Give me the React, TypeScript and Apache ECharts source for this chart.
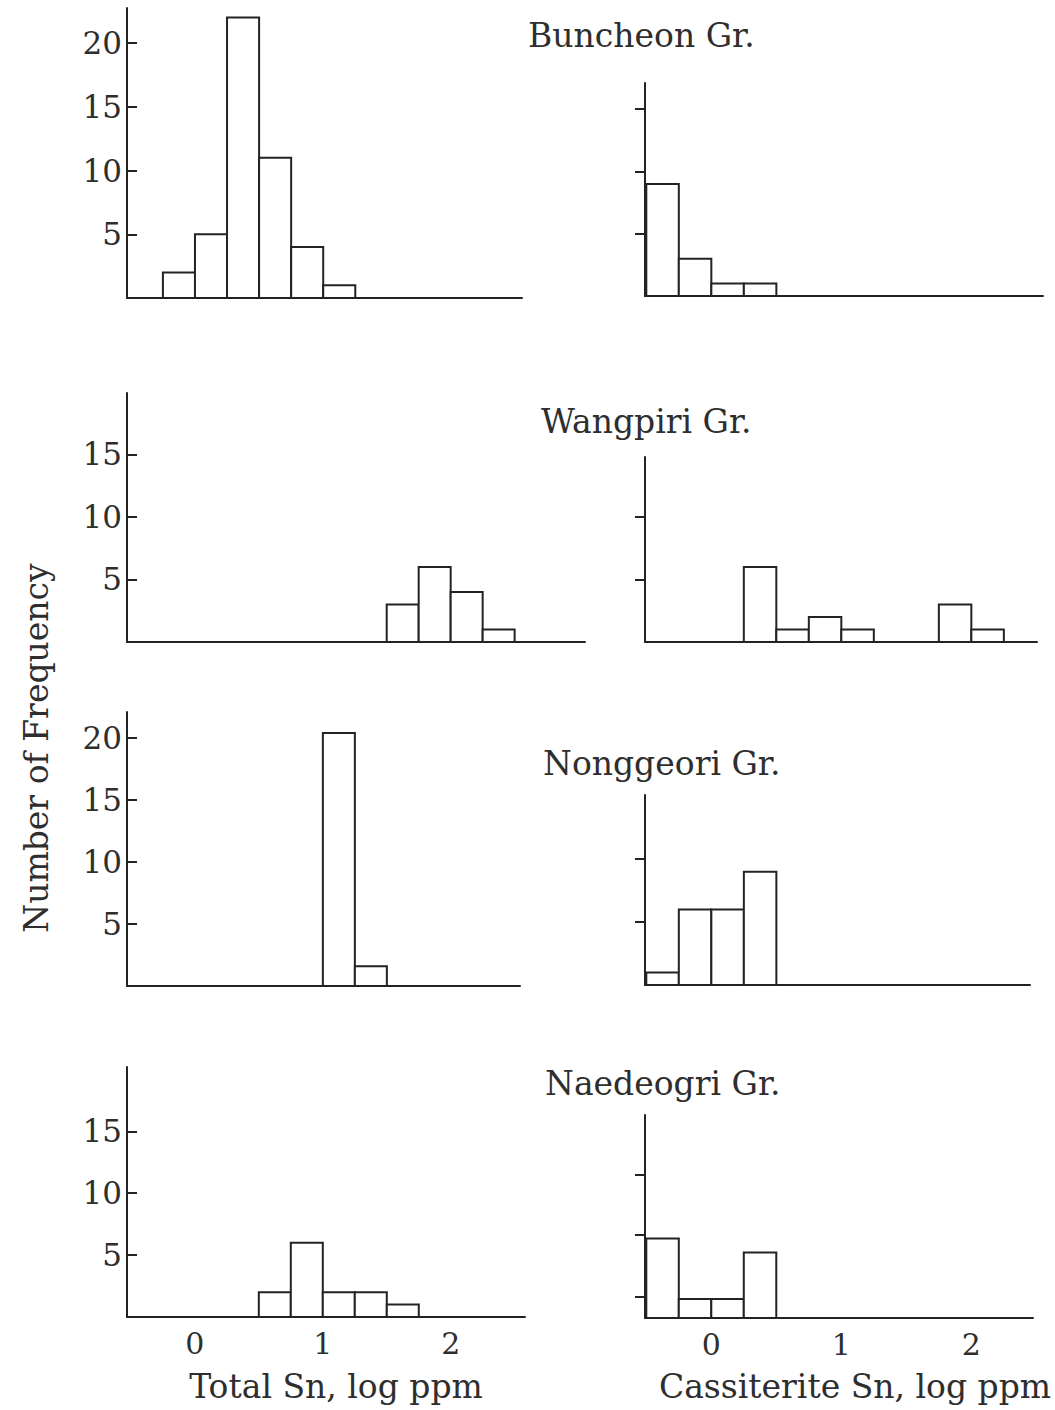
import React, { useEffect, useRef } from "react";
import * as echarts from "echarts";

// ---- data (bin lower edges in log ppm, bin width 0.25; counts) ----
const BIN_WIDTH = 0.25;
const groupNames = ["Buncheon Gr.", "Wangpiri Gr.", "Nonggeori Gr.", "Naedeogri Gr."];

const buncheonTotalBins = [-0.25, 0, 0.25, 0.5, 0.75, 1.0];
const buncheonTotalCounts = [2, 5, 22, 11, 4, 1];
const buncheonCassBins = [-0.5, -0.25, 0, 0.25];
const buncheonCassCounts = [9, 3, 1, 1];

const wangpiriTotalBins = [1.5, 1.75, 2.0, 2.25];
const wangpiriTotalCounts = [3, 6, 4, 1];
const wangpiriCassBins = [0.25, 0.5, 0.75, 1.0, 1.75, 2.0];
const wangpiriCassCounts = [6, 1, 2, 1, 3, 1];

const nonggeoriTotalBins = [1.0, 1.25];
const nonggeoriTotalCounts = [20.4, 1.6];
const nonggeoriCassBins = [-0.5, -0.25, 0, 0.25];
const nonggeoriCassCounts = [1, 6, 6, 9];

const naedeogriTotalBins = [0.5, 0.75, 1.0, 1.25, 1.5];
const naedeogriTotalCounts = [2, 6, 2, 2, 1];
const naedeogriCassBins = [-0.5, -0.25, 0, 0.25];
const naedeogriCassCounts = [6.3, 1.5, 1.5, 5.2];

const xTickValues = [0, 1, 2];
const yTicksP1 = [5, 10, 15, 20];
const yTicksP2 = [5, 10, 15];
const yTicksP3 = [5, 10, 15];
const yTicksP4 = [5, 10];
const yTicksP5 = [5, 10, 15, 20];
const yTicksP6 = [5, 10];
const yTicksP7 = [5, 10, 15];
const yTicksP8 = [1.7, 6.6, 11.4];

const xTitleLeft = "Total Sn, log ppm";
const xTitleRight = "Cassiterite Sn, log ppm";
const yTitle = "Number of Frequency";

const FONT = "DejaVu Serif";
const INK = "#232323";
const TEXT = "#2e2e2e";

type Panel = {
  bins: number[];
  counts: number[];
  ticks: number[];
  left: number; top: number; width: number; height: number;
  xmin: number; xmax: number; ymax: number;
  leftCol: boolean; bottom: boolean;
};

const panels: Panel[] = [
  { bins: buncheonTotalBins, counts: buncheonTotalCounts, ticks: yTicksP1, left: 127, top: 8, width: 395, height: 290, xmin: -0.53, xmax: 2.55, ymax: 22.75, leftCol: true, bottom: false },
  { bins: buncheonCassBins, counts: buncheonCassCounts, ticks: yTicksP2, left: 645, top: 83, width: 398, height: 213, xmin: -0.51, xmax: 2.55, ymax: 17.1, leftCol: false, bottom: false },
  { bins: wangpiriTotalBins, counts: wangpiriTotalCounts, ticks: yTicksP3, left: 127, top: 393, width: 458, height: 249, xmin: -0.53, xmax: 3.05, ymax: 19.9, leftCol: true, bottom: false },
  { bins: wangpiriCassBins, counts: wangpiriCassCounts, ticks: yTicksP4, left: 645, top: 457, width: 392, height: 185, xmin: -0.51, xmax: 2.505, ymax: 14.8, leftCol: false, bottom: false },
  { bins: nonggeoriTotalBins, counts: nonggeoriTotalCounts, ticks: yTicksP5, left: 127, top: 712, width: 393, height: 274, xmin: -0.53, xmax: 2.54, ymax: 22.1, leftCol: true, bottom: false },
  { bins: nonggeoriCassBins, counts: nonggeoriCassCounts, ticks: yTicksP6, left: 645, top: 795, width: 385, height: 190, xmin: -0.51, xmax: 2.45, ymax: 15.1, leftCol: false, bottom: false },
  { bins: naedeogriTotalBins, counts: naedeogriTotalCounts, ticks: yTicksP7, left: 127, top: 1067, width: 398, height: 250, xmin: -0.53, xmax: 2.58, ymax: 20.2, leftCol: true, bottom: true },
  { bins: naedeogriCassBins, counts: naedeogriCassCounts, ticks: yTicksP8, left: 645, top: 1115, width: 388, height: 203, xmin: -0.51, xmax: 2.475, ymax: 16.1, leftCol: false, bottom: true },
];

const titlePos = [
  { x: 528, y: 35 },
  { x: 541, y: 421 },
  { x: 543, y: 763 },
  { x: 545, y: 1083 },
];

export default function App() {
  const ref = useRef<HTMLDivElement>(null);
  useEffect(() => {
    if (!ref.current) return;
    const chart = echarts.init(ref.current, undefined, { renderer: "svg" });

    const grid = panels.map((p) => ({ left: p.left, top: p.top, width: p.width, height: p.height, containLabel: false }));
    const xAxis = panels.map((p, i) => ({
      type: "value",
      gridIndex: i,
      min: p.xmin,
      max: p.xmax,
      axisLine: { show: true, onZero: false, lineStyle: { color: INK, width: 2 } },
      axisTick: { show: false },
      splitLine: { show: false },
      axisLabel: p.bottom
        ? { show: true, customValues: xTickValues, fontFamily: FONT, fontSize: 30, color: TEXT, margin: 11 }
        : { show: false },
    }));
    const yAxis = panels.map((p, i) => ({
      type: "value",
      gridIndex: i,
      min: 0,
      max: p.ymax,
      axisLine: { show: true, onZero: false, lineStyle: { color: INK, width: 2 } },
      axisTick: { show: true, customValues: p.ticks, inside: p.leftCol, length: 10, lineStyle: { color: INK, width: 2 } },
      splitLine: { show: false },
      axisLabel: p.leftCol
        ? { show: true, customValues: p.ticks, fontFamily: FONT, fontSize: 31, color: TEXT, margin: 5 }
        : { show: false },
    }));
    const series = panels.map((p, i) => ({
      type: "custom",
      xAxisIndex: i,
      yAxisIndex: i,
      data: p.bins.map((b, k) => [b, b + BIN_WIDTH, p.counts[k]]),
      encode: { x: [0, 1], y: 2 },
      renderItem: (params: any, api: any) => {
        const p0 = api.coord([api.value(0), api.value(2)]);
        const p1 = api.coord([api.value(1), 0]);
        return {
          type: "rect",
          shape: { x: p0[0], y: p0[1], width: p1[0] - p0[0], height: p1[1] - p0[1] },
          style: { fill: "#ffffff", stroke: INK, lineWidth: 2 },
        };
      },
    }));

    const graphic: any[] = [];
    groupNames.forEach((name, i) => {
      graphic.push({
        type: "text",
        x: titlePos[i].x,
        y: titlePos[i].y,
        style: { text: name, font: `33px "${FONT}"`, fill: TEXT, align: "left", verticalAlign: "middle" },
      });
    });
    graphic.push({
      type: "text", x: 336, y: 1386,
      style: { text: xTitleLeft, font: `33px "${FONT}"`, fill: TEXT, align: "center", verticalAlign: "middle" },
    });
    graphic.push({
      type: "text", x: 855, y: 1386,
      style: { text: xTitleRight, font: `33px "${FONT}"`, fill: TEXT, align: "center", verticalAlign: "middle" },
    });
    graphic.push({
      type: "text", x: 36, y: 748, rotation: Math.PI / 2,
      style: { text: yTitle, font: `33px "${FONT}"`, fill: TEXT, align: "center", verticalAlign: "middle" },
    });

    chart.setOption({
      animation: false,
      backgroundColor: "#ffffff",
      grid,
      xAxis,
      yAxis,
      series,
      graphic,
    } as any);
    return () => chart.dispose();
  }, []);
  return <div ref={ref} style={{ position: "absolute", left: 0, top: 0, width: 1055, height: 1410 }} />;
}
